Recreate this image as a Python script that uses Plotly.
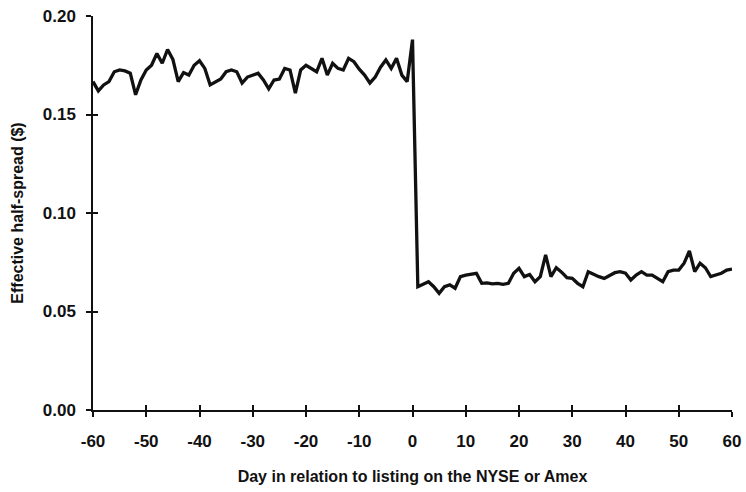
import plotly.graph_objects as go

# Trading days relative to the listing date
days = list(range(-60, 61))

# Average effective half-spread (dollars) for days -60 .. 0
spread_before = [
    0.1667, 0.1620, 0.1650, 0.1667, 0.1717, 0.1726, 0.1721, 0.1710, 0.1600, 0.1675,
    0.1726, 0.1750, 0.1810, 0.1760, 0.1830, 0.1780, 0.1667, 0.1713, 0.1700, 0.1750,
    0.1773, 0.1734, 0.1650, 0.1667, 0.1680, 0.1717, 0.1726, 0.1717, 0.1660, 0.1690,
    0.1700, 0.1710, 0.1675, 0.1630, 0.1675, 0.1680, 0.1734, 0.1726, 0.1608, 0.1726,
    0.1750, 0.1734, 0.1717, 0.1785, 0.1700, 0.1760, 0.1734, 0.1726, 0.1785, 0.1768,
    0.1730, 0.1700, 0.1660, 0.1690, 0.1740, 0.1777, 0.1734, 0.1785, 0.1700, 0.1667,
    0.1880,
]

# Average effective half-spread (dollars) for days 1 .. 60
spread_after = [
    0.0626, 0.0638, 0.0651, 0.0626, 0.0592, 0.0626, 0.0635, 0.0618, 0.0677, 0.0685,
    0.0688, 0.0694, 0.0643, 0.0645, 0.0640, 0.0643, 0.0638, 0.0643, 0.0694, 0.0719,
    0.0677, 0.0688, 0.0651, 0.0677, 0.0787, 0.0677, 0.0722, 0.0700, 0.0672, 0.0668,
    0.0643, 0.0626, 0.0702, 0.0688, 0.0677, 0.0668, 0.0681, 0.0697, 0.0702, 0.0694,
    0.0660, 0.0685, 0.0702, 0.0685, 0.0685, 0.0668, 0.0651, 0.0702, 0.0710, 0.0710,
    0.0745, 0.0807, 0.0702, 0.0745, 0.0722, 0.0677, 0.0685, 0.0694, 0.0710, 0.0715,
]

spread = spread_before + spread_after

x_ticks = list(range(-60, 61, 10))
y_ticks = [0.00, 0.05, 0.10, 0.15, 0.20]
y_tick_text = ["0.00", "0.05", "0.10", "0.15", "0.20"]

ink = "#111111"
font_family = "Liberation Sans, Arial, sans-serif"

fig = go.Figure()
fig.add_trace(go.Scatter(
    x=days, y=spread, mode="lines",
    line=dict(color=ink, width=3.3),
    showlegend=False, hoverinfo="skip",
))
# invisible trace that carries the inner half of the crossing tick marks
fig.add_trace(go.Scatter(
    x=days, y=spread, mode="lines", xaxis="x2", yaxis="y2",
    line=dict(color="rgba(0,0,0,0)", width=0),
    showlegend=False, hoverinfo="skip",
))

axis_font = dict(family=font_family, size=17, color=ink, weight="bold")
title_font = dict(family=font_family, size=16, color=ink, weight="bold")

fig.update_layout(
    width=746, height=492,
    margin=dict(l=93, r=14, t=16, b=82, autoexpand=False),
    paper_bgcolor="white", plot_bgcolor="white",
    xaxis=dict(
        range=[-60, 60], tickvals=x_ticks, ticktext=[str(v) for v in x_ticks],
        showgrid=False, zeroline=False, automargin=False,
        showline=True, linecolor=ink, linewidth=1.5,
        ticks="outside", ticklen=5, tickwidth=1.5, tickcolor=ink,
        tickfont=axis_font, ticklabelstandoff=10,
        title=dict(text="Day in relation to listing on the NYSE or Amex",
                   font=title_font, standoff=21),
    ),
    yaxis=dict(
        range=[0, 0.20], tickvals=y_ticks, ticktext=y_tick_text,
        showgrid=False, zeroline=False, automargin=False,
        showline=True, linecolor=ink, linewidth=1.5,
        ticks="outside", ticklen=5, tickwidth=1.5, tickcolor=ink,
        tickfont=axis_font, ticklabelstandoff=7,
        title=dict(text="Effective half-spread ($)", font=title_font, standoff=15),
    ),
    xaxis2=dict(
        range=[-60, 60], tickvals=x_ticks, overlaying="x", matches="x",
        showgrid=False, zeroline=False, showline=False, showticklabels=False,
        ticks="inside", ticklen=5, tickwidth=1.5, tickcolor=ink,
    ),
    yaxis2=dict(
        range=[0, 0.20], tickvals=y_ticks, overlaying="y", matches="y",
        showgrid=False, zeroline=False, showline=False, showticklabels=False,
        ticks="inside", ticklen=5, tickwidth=1.5, tickcolor=ink,
    ),
)

fig.write_html("out.html")
